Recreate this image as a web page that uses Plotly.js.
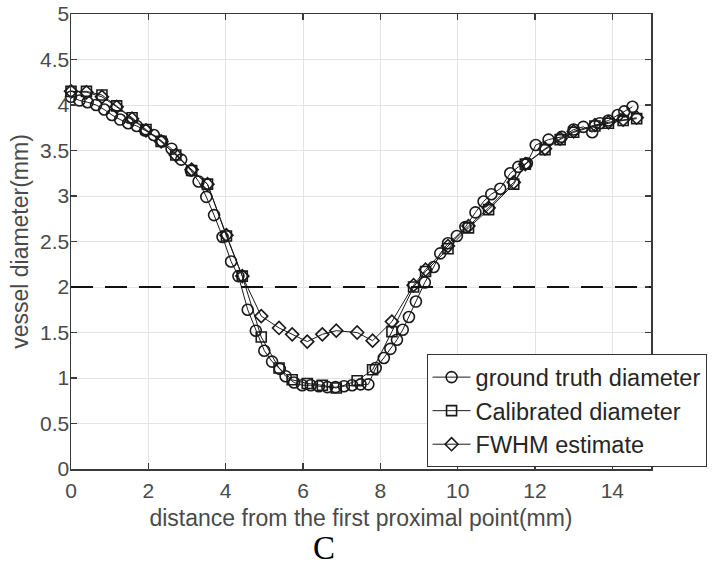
<!DOCTYPE html>
<html>
<head>
<meta charset="utf-8">
<script src="https://cdn.plot.ly/plotly-3.0.1.min.js"></script>
<style>
  html, body { margin: 0; padding: 0; background: #ffffff; }
  #chart { width: 718px; height: 571px; }
</style>
</head>
<body>
<div id="chart"></div>
<script>
// Ground truth diameter along the vessel centreline (mm)
const gtX = [0, 0.22, 0.43, 0.65, 0.86, 1.06, 1.27, 1.48, 1.7, 1.92, 2.14, 2.36, 2.6, 2.85, 3.1, 3.3, 3.5, 3.7, 3.92, 4.14,
             4.33, 4.57, 4.78, 5.0, 5.2, 5.4, 5.55, 5.77, 5.98, 6.2, 6.41, 6.63, 6.84, 7.06, 7.27, 7.49, 7.69, 7.88, 8.09, 8.26,
             8.43, 8.58, 8.74, 8.92, 9.15, 9.38, 9.55, 9.75, 9.98, 10.2, 10.46, 10.67, 10.87, 11.1, 11.36, 11.57, 11.79, 12.02,
             12.35, 12.69, 13.0, 13.25, 13.48, 13.68, 13.9, 14.14, 14.31, 14.52];
const gtY = [4.09, 4.05, 4.03, 4.0, 3.95, 3.89, 3.84, 3.80, 3.77, 3.72, 3.67, 3.60, 3.52, 3.40, 3.28, 3.16, 2.99, 2.79, 2.55, 2.28,
             2.12, 1.75, 1.52, 1.30, 1.18, 1.10, 1.02, 0.95, 0.92, 0.92, 0.91, 0.90, 0.90, 0.91, 0.92, 0.93, 0.93, 1.11, 1.22, 1.32,
             1.42, 1.53, 1.67, 1.84, 2.05, 2.22, 2.37, 2.48, 2.56, 2.66, 2.82, 2.94, 3.02, 3.08, 3.25, 3.32, 3.36, 3.56,
             3.62, 3.65, 3.73, 3.76, 3.70, 3.80, 3.83, 3.89, 3.93, 3.98];

// Image-based estimates, sampled at the same positions (mm)
const estX = [0, 0.4, 0.8, 1.18, 1.58, 1.94, 2.33, 2.71, 3.12, 3.53, 4.02, 4.43, 4.92, 5.38, 5.72, 6.11, 6.5, 6.86, 7.4, 7.8,
              8.3, 8.86, 9.17, 9.75, 10.28, 10.8, 11.45, 11.75, 12.26, 12.65, 13.0, 13.55, 13.9, 14.28, 14.63];
const calY = [4.15, 4.15, 4.11, 3.99, 3.86, 3.73, 3.60, 3.45, 3.28, 3.13, 2.56, 2.12, 1.45, 1.11, 0.98, 0.94, 0.92, 0.89, 0.97, 1.09,
              1.51, 2.0, 2.17, 2.42, 2.65, 2.85, 3.13, 3.35, 3.51, 3.62, 3.70, 3.77, 3.80, 3.83, 3.85];
const fwhmY = [4.15, 4.14, 4.09, 3.98, 3.85, 3.72, 3.60, 3.45, 3.29, 3.13, 2.57, 2.12, 1.68, 1.55, 1.48, 1.40, 1.48, 1.52, 1.50, 1.41,
               1.62, 2.02, 2.19, 2.45, 2.67, 2.87, 3.15, 3.35, 3.52, 3.63, 3.71, 3.78, 3.81, 3.84, 3.86];

const seriesNames = ['ground truth diameter', 'Calibrated diameter', 'FWHM estimate'];
const threshold = 2;   // reference diameter line (mm)

const xTicks = [0, 2, 4, 6, 8, 10, 12, 14];
const yTicks = [0, 0.5, 1, 1.5, 2, 2.5, 3, 3.5, 4, 4.5, 5];
const yTickText = ['0', '0.5', '1', '1.5', '2', '2.5', '3', '3.5', '4', '4.5', '5'];

const ink = '#1a1a1a';
const sans = '"Liberation Sans", Arial, Helvetica, sans-serif';
const labelGrey = '#4a4a4a';

function series(x, y, name, symbol, size) {
  return {
    type: 'scatter', mode: 'lines+markers', x: x, y: y, name: name,
    line: { color: ink, width: 1 },
    marker: { symbol: symbol, size: size, color: ink, line: { color: ink, width: 1.6 } },
    cliponaxis: false
  };
}

const traces = [
  series(gtX, gtY, seriesNames[0], 'circle-open', 11),
  series(estX, calY, seriesNames[1], 'square-open', 10),
  series(estX, fwhmY, seriesNames[2], 'diamond-open', 10)
];

const axisCommon = {
  showgrid: true, gridcolor: '#e3e3e3', gridwidth: 1,
  showline: true, linecolor: '#3a3a3a', linewidth: 1.5, mirror: 'ticks',
  ticks: 'inside', ticklen: 6, tickwidth: 1.5, tickcolor: '#3a3a3a',
  zeroline: false,
  tickfont: { family: sans, size: 21, color: labelGrey }
};

const layout = {
  width: 718, height: 571,
  margin: { l: 71, r: 66, t: 14, b: 102 },
  paper_bgcolor: '#ffffff', plot_bgcolor: '#ffffff',
  xaxis: Object.assign({}, axisCommon, {
    range: [0, 15], tickvals: xTicks, ticklabelstandoff: 2,
    title: { text: 'distance from the first proximal point(mm)', font: { family: sans, size: 23, color: labelGrey }, standoff: 9 }
  }),
  yaxis: Object.assign({}, axisCommon, {
    range: [0, 5], tickvals: yTicks, ticktext: yTickText, ticklabelstandoff: -4,
    title: { text: 'vessel diameter(mm)', font: { family: sans, size: 23, color: labelGrey }, standoff: 5 }
  }),
  shapes: [{
    type: 'line', xref: 'x', yref: 'y', x0: 0, x1: 15, y0: threshold, y1: threshold,
    line: { color: '#111111', width: 2, dash: '22px,12px' }, layer: 'above'
  }],
  legend: {
    x: 0.612, y: 0.252, xanchor: 'left', yanchor: 'top',
    bgcolor: '#ffffff', bordercolor: '#333333', borderwidth: 1,
    itemwidth: 38,
    font: { family: sans, size: 23.5, color: '#262626' }
  },
  annotations: [{
    text: 'C', xref: 'paper', yref: 'paper', x: 0.437, y: -0.174, showarrow: false,
    xanchor: 'center', yanchor: 'middle',
    font: { family: '"Liberation Serif", "Times New Roman", serif', size: 33, color: '#000000' }
  }],
  showlegend: true
};

Plotly.newPlot('chart', traces, layout, { staticPlot: true, displayModeBar: false });
</script>
</body>
</html>
